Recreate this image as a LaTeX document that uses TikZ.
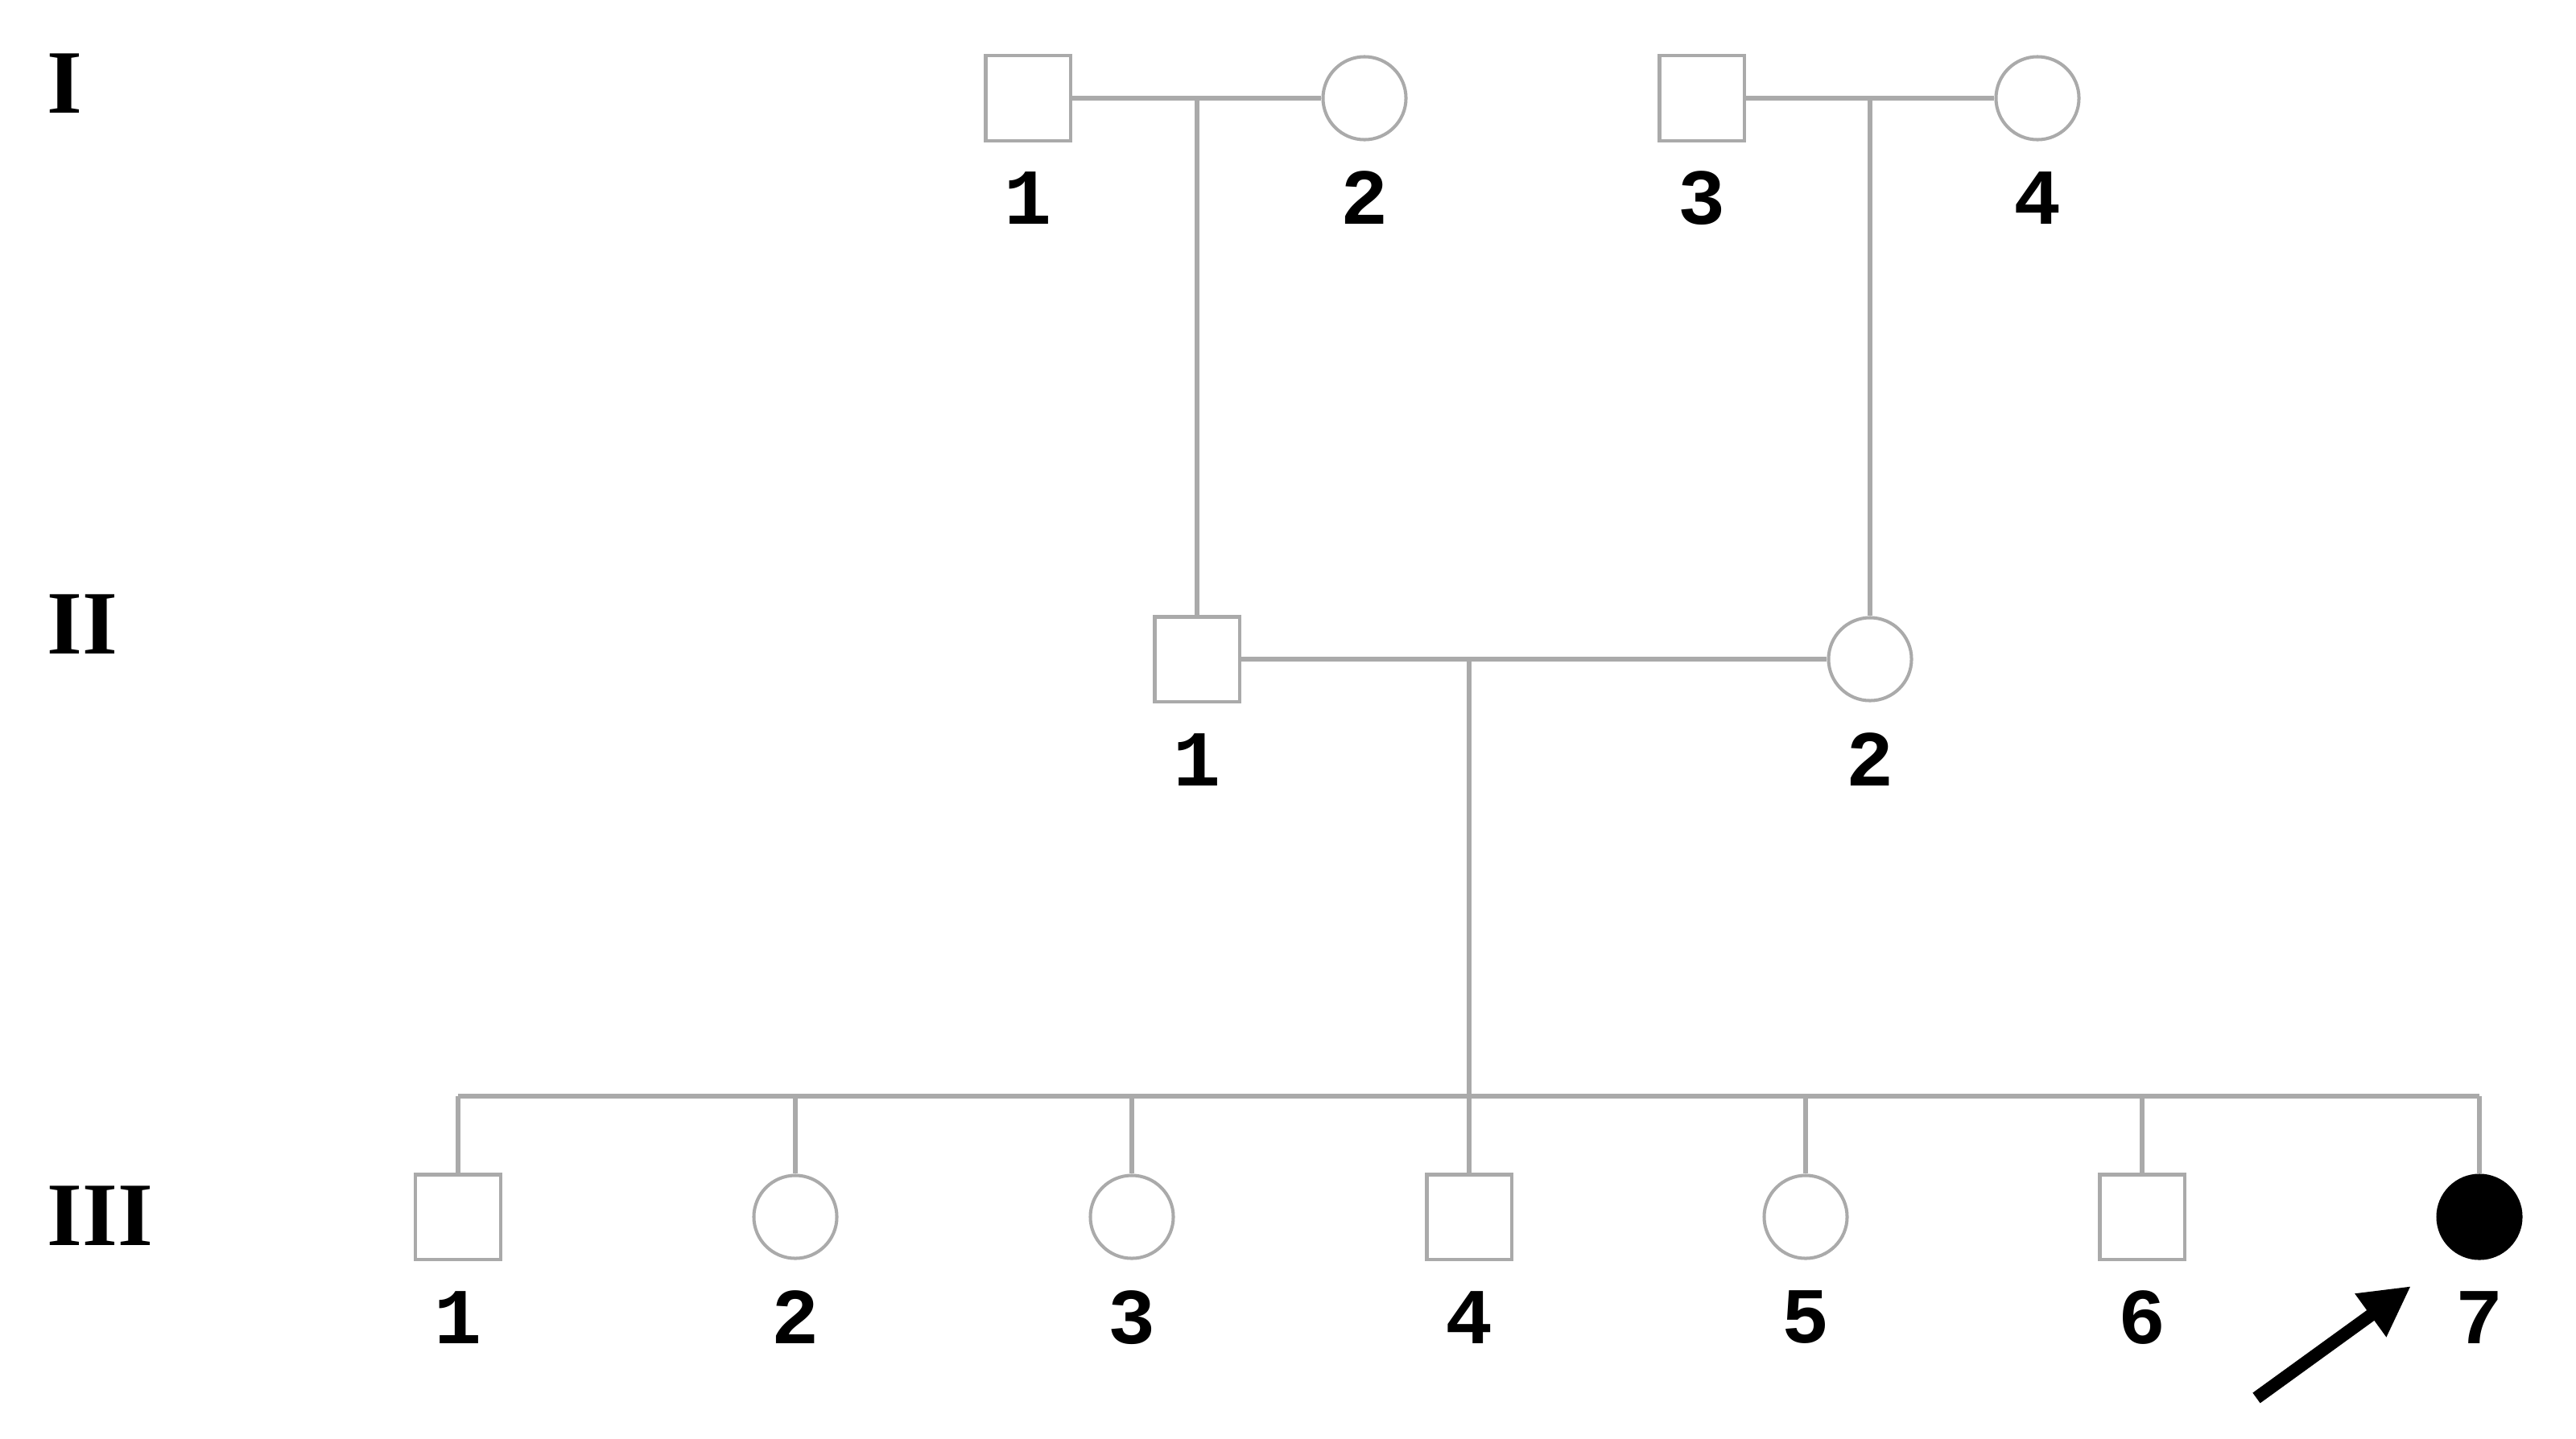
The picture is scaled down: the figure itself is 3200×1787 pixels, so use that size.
\documentclass[tikz,border=0pt]{standalone}
\usepackage{fontspec}
\newfontfamily\numfont{Liberation Mono}
\newfontfamily\romfont{Liberation Serif}
\usetikzlibrary{arrows.meta}
\definecolor{pedline}{RGB}{170,170,170}
\begin{document}
\begin{tikzpicture}[x=0.01cm,y=-0.01cm,
  male/.style={draw=pedline,line width=1.15pt,fill=white,rectangle,minimum size=1.05cm,inner sep=0pt},
  female/.style={draw=pedline,line width=1.15pt,fill=white,circle,minimum size=1.03cm,inner sep=0pt},
  affected/.style={draw=black,line width=1.15pt,fill=black,circle,minimum size=1.03cm,inner sep=0pt},
  conn/.style={draw=pedline,line width=1.5pt},
  idlabel/.style={font=\numfont\bfseries\fontsize{28}{30}\selectfont,inner sep=0pt},
  genlabel/.style={font=\romfont\bfseries\fontsize{32}{34}\selectfont,inner sep=0pt,anchor=west}
]
\useasboundingbox (0,0) rectangle (3200,1787);

% generation labels
\node[genlabel] (gI) at (58,104) {I};
\node[genlabel] (gII) at (58,776) {II};
\node[genlabel] (gIII) at (58,1511) {III};

% generation I
\node[male] (I1) at (1277,122) {};
\node[female] (I2) at (1695,122) {};
\node[male] (I3) at (2114,122) {};
\node[female] (I4) at (2531,122) {};
\node[idlabel] (lI1) at (1277,246) {1};
\node[idlabel] (lI2) at (1695,246) {2};
\node[idlabel] (lI3) at (2114,246) {3};
\node[idlabel] (lI4) at (2531,246) {4};

% generation II
\node[male] (II1) at (1487,819) {};
\node[female] (II2) at (2323,819) {};
\node[idlabel] (lII1) at (1487,944) {1};
\node[idlabel] (lII2) at (2323,944) {2};

% generation III
\node[male] (III1) at (569,1512) {};
\node[female] (III2) at (988,1512) {};
\node[female] (III3) at (1406,1512) {};
\node[male] (III4) at (1825,1512) {};
\node[female] (III5) at (2243,1512) {};
\node[male] (III6) at (2661,1512) {};
\node[affected] (III7) at (3080,1512) {};
\node[idlabel] (lIII1) at (569,1637) {1};
\node[idlabel] (lIII2) at (988,1637) {2};
\node[idlabel] (lIII3) at (1406,1637) {3};
\node[idlabel] (lIII4) at (1825,1637) {4};
\node[idlabel] (lIII5) at (2243,1637) {5};
\node[idlabel] (lIII6) at (2661,1637) {6};
\node[idlabel] (lIII7) at (3080,1637) {7};

% connector coordinates
\coordinate (m1) at (1487,122);
\coordinate (m2) at (2323,122);
\coordinate (m3) at (1825,819);
\coordinate (s3) at (1825,1362);

% connectors
\draw[conn] (I1.east) -- (I2.west);
\draw[conn] (I3.east) -- (I4.west);
\draw[conn] (II1.east) -- (II2.west);
\draw[conn] (m1) -- (II1.north);
\draw[conn] (m2) -- (II2.north);
\draw[conn] (m3) -- (s3);
\draw[conn] (III1.north |- s3) -- (III7.north |- s3);
\foreach \n in {III1,III2,III3,III4,III5,III6,III7}{
  \draw[conn] (\n.north |- s3) -- (\n.north);
}

% proband arrow
\coordinate (arrtail) at (2803,1737);
\coordinate (arrtip) at (2995,1598);
\draw[line width=4.5pt,-{Triangle[length=0.62cm,width=0.62cm]}] (arrtail) -- (arrtip);
\end{tikzpicture}
\end{document}
